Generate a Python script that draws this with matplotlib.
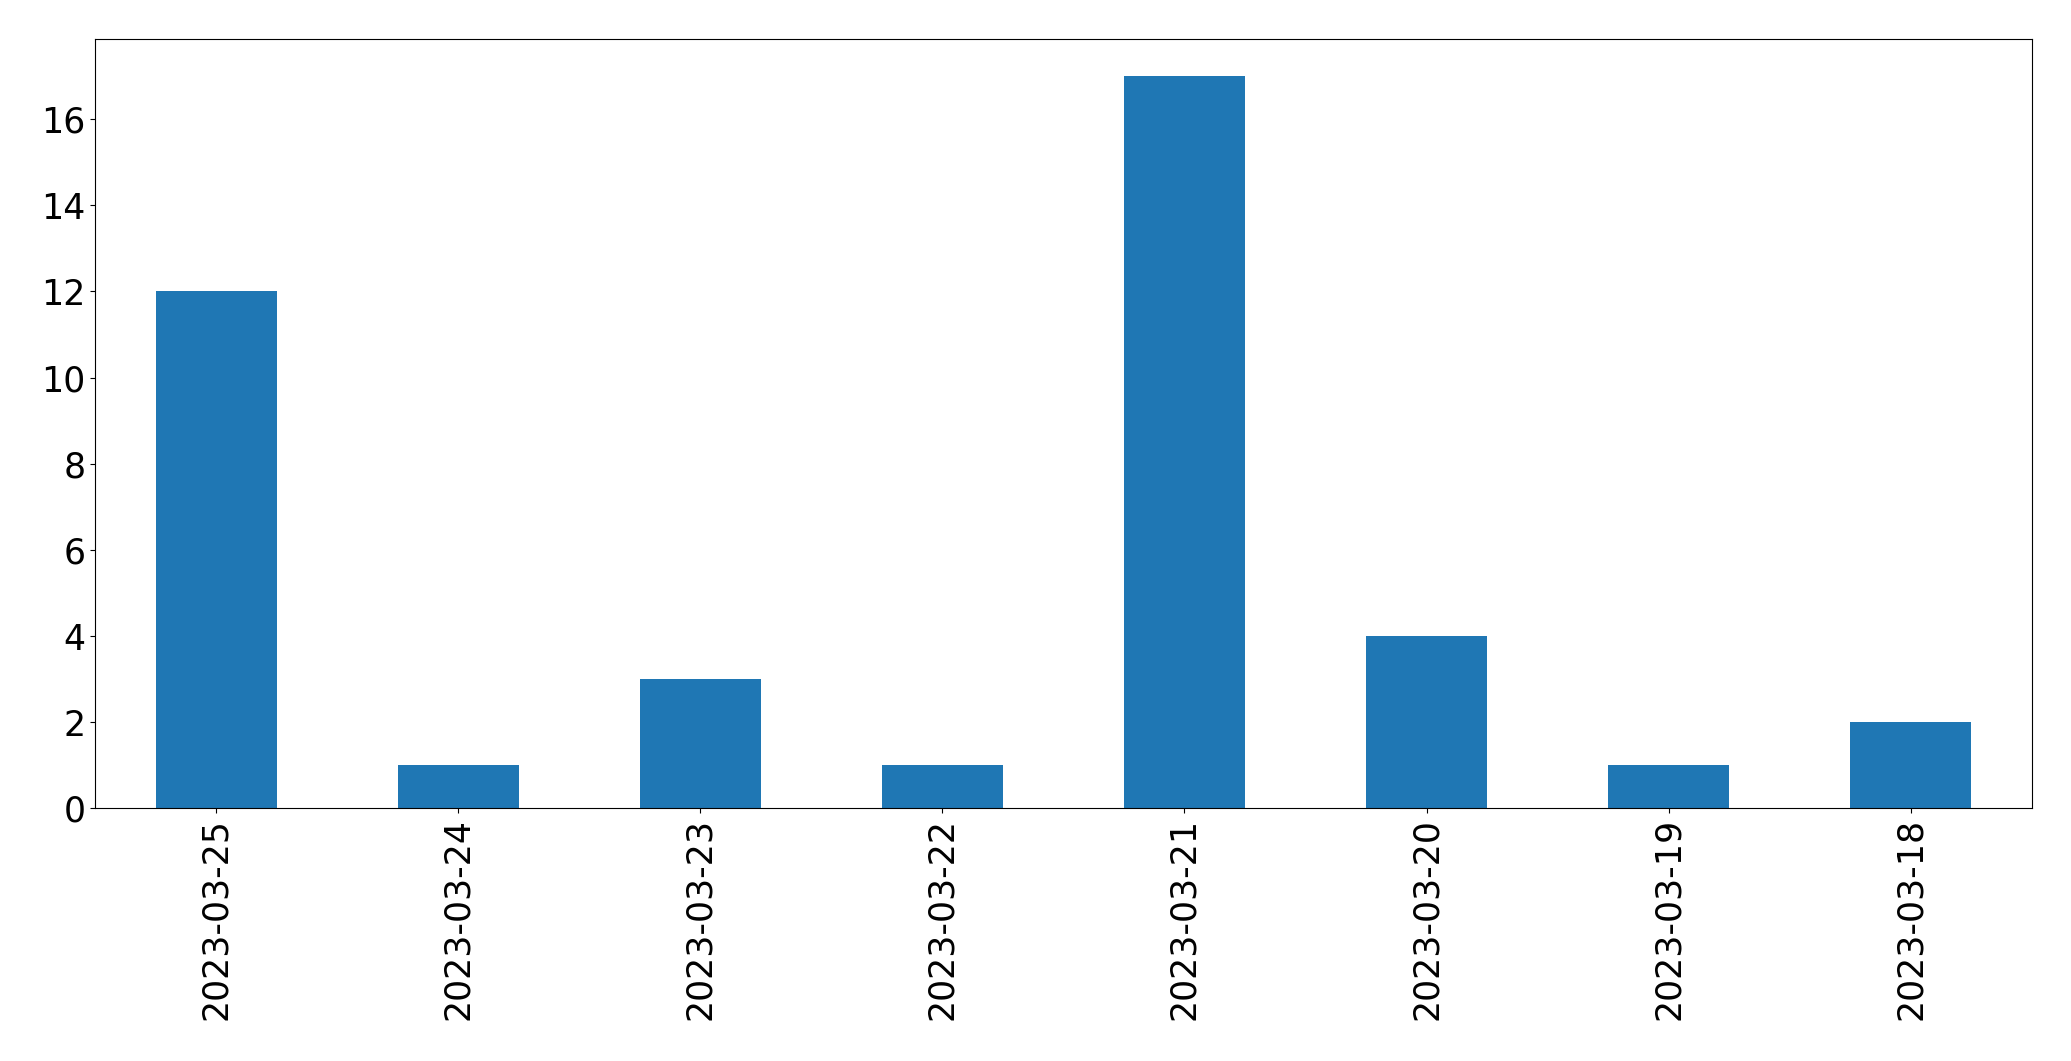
import matplotlib
matplotlib.use("Agg")
import matplotlib.pyplot as plt
import numpy as np

dates = ["2023-03-25", "2023-03-24", "2023-03-23", "2023-03-22",
         "2023-03-21", "2023-03-20", "2023-03-19", "2023-03-18"]
counts = [12, 1, 3, 1, 17, 4, 1, 2]

fig = plt.figure(figsize=(20.71, 10.61), dpi=100)
ax = fig.add_axes([0.046, 0.238, 0.935, 0.725])

x = np.arange(len(dates))
ax.bar(x, counts, width=0.5, color="#1f77b4")
ax.set_xlim(-0.5, len(dates) - 0.5)
ax.set_ylim(0, max(counts) * 1.05)
ax.set_xticks(x)
ax.set_xticklabels(dates, rotation=90)
ax.set_yticks(np.arange(0, 17, 2))
ax.tick_params(labelsize=25)

fig.savefig("out.png", dpi=100)
